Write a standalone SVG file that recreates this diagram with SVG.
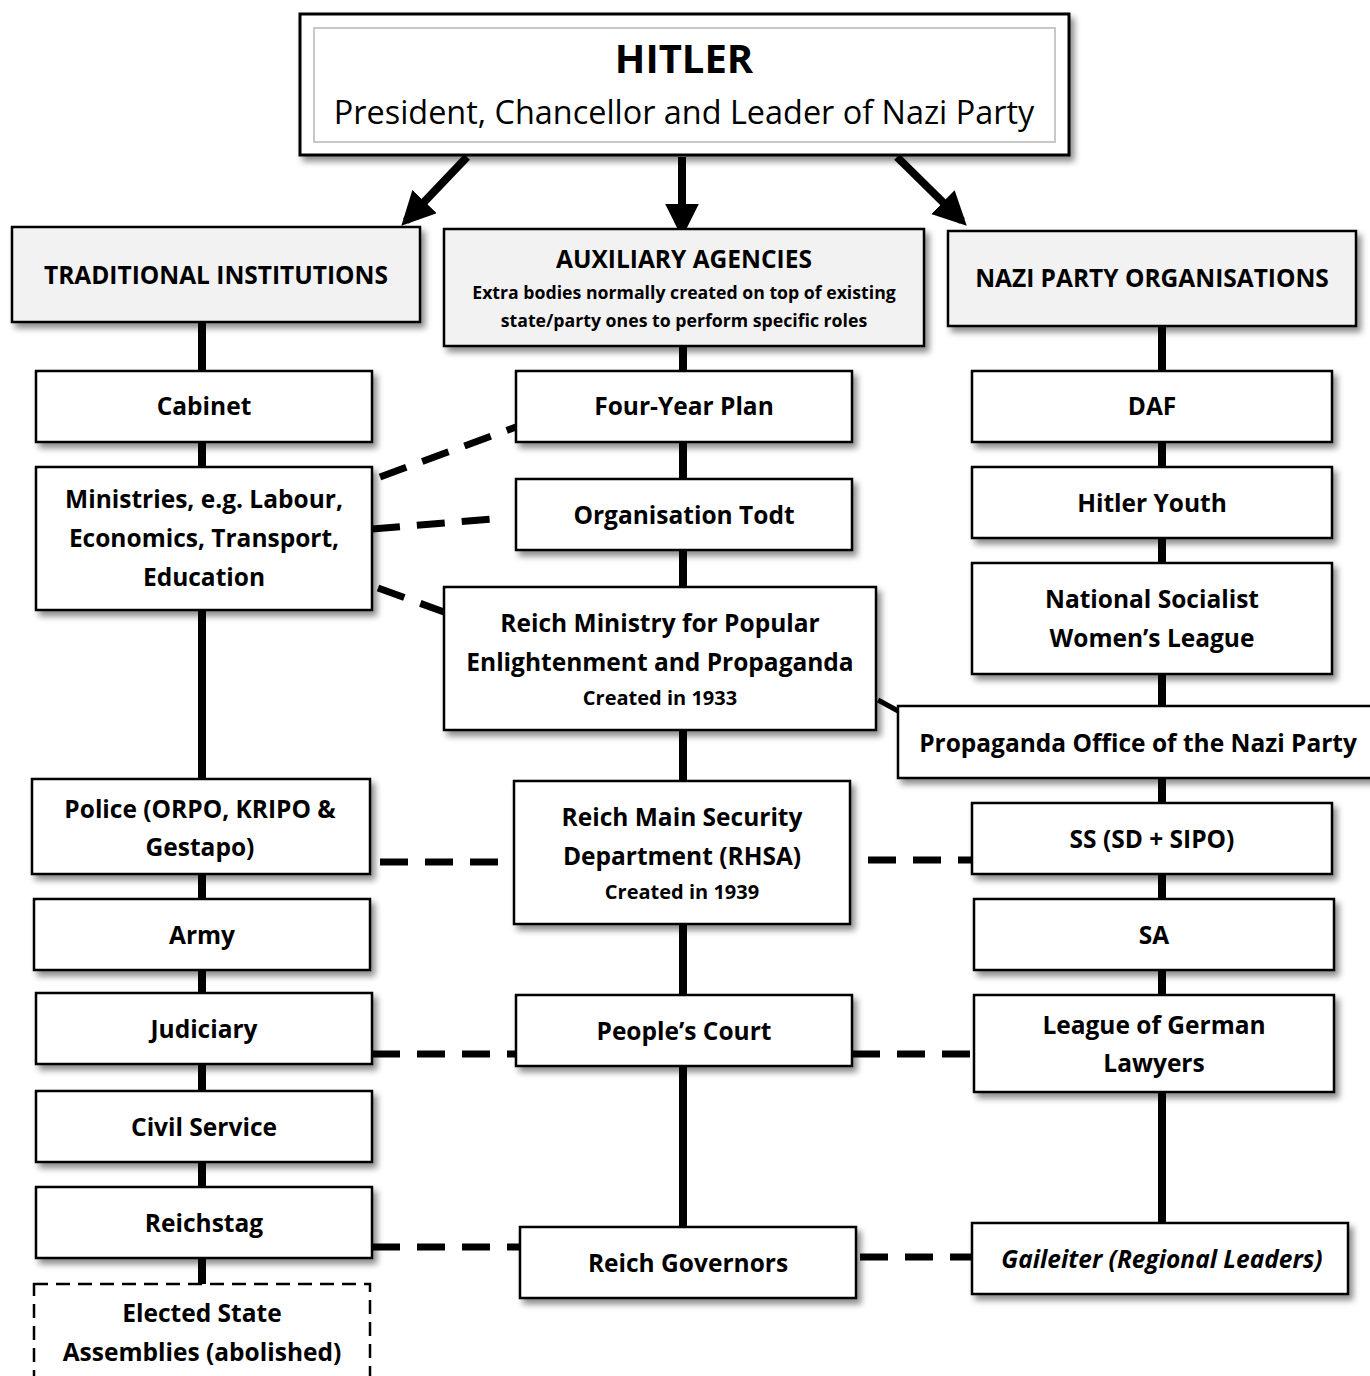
<svg xmlns="http://www.w3.org/2000/svg" width="1370" height="1376" viewBox="0 0 1370 1376">
<defs>
<filter id="sh" x="-10%" y="-10%" width="130%" height="140%">
<feDropShadow dx="4" dy="5" stdDeviation="3" flood-color="#000" flood-opacity="0.45"/>
</filter>
<marker id="ah" viewBox="0 0 10 10" refX="8" refY="5" markerWidth="4.2" markerHeight="4.2" orient="auto" markerUnits="strokeWidth">
<path d="M0,0 L10,5 L0,10 Z" fill="#000"/>
</marker>
</defs>
<style>
.box{fill:#fff;stroke:#000;stroke-width:2.5;filter:url(#sh)}
.hdr{fill:#f2f2f2;stroke:#000;stroke-width:2.5;filter:url(#sh)}
.dbox{fill:#fff;stroke:#000;stroke-width:2.5;stroke-dasharray:14 8}
.t{font-family:"Open Sans",Lato,"Liberation Sans",sans-serif;font-weight:bold;font-size:24.5px;text-anchor:middle;fill:#000}
.ts{font-size:20px}
.tsm{font-size:17.7px}
.it{font-style:italic}
.solid{stroke:#000;stroke-width:8;fill:none}
.dash{stroke:#000;stroke-width:7;fill:none;stroke-dasharray:28 17}
.arr{stroke:#000;stroke-width:8;fill:none;marker-end:url(#ah)}
</style>

<g id="connectors">
<line class="solid" x1="202" y1="322" x2="202" y2="1284"/>
<line class="solid" x1="683" y1="346" x2="683" y2="1227"/>
<line class="solid" x1="1162" y1="326" x2="1162" y2="1223"/>
<line class="arr" x1="467" y1="157" x2="406" y2="221"/>
<line class="arr" x1="682" y1="157" x2="682" y2="231"/>
<line class="arr" x1="897" y1="157" x2="962" y2="221"/>
<line class="dash" x1="380" y1="477" x2="516" y2="427"/>
<line class="dash" x1="372" y1="529" x2="505" y2="518"/>
<line class="dash" x1="378" y1="588" x2="444" y2="612"/>
<line stroke="#000" stroke-width="5" x1="878" y1="700" x2="900" y2="712"/>
<line class="dash" x1="380" y1="862" x2="514" y2="862"/>
<line class="dash" x1="868" y1="860" x2="972" y2="860"/>
<line class="dash" x1="372" y1="1054" x2="516" y2="1054"/>
<line class="dash" x1="852" y1="1054" x2="974" y2="1054"/>
<line class="dash" x1="372" y1="1247" x2="520" y2="1247"/>
<line class="dash" x1="860" y1="1257" x2="972" y2="1257"/>
</g>

<g id="hitler">
<rect x="300" y="14" width="769" height="141" fill="#fff" stroke="#000" stroke-width="3" filter="url(#sh)"/>
<rect x="314" y="28" width="741" height="114" fill="#fff" stroke="#c8c8c8" stroke-width="2"/>
<text class="t" x="684" y="73" style="font-size:40px">HITLER</text>
<text class="t" x="684" y="124" style="font-size:32.4px;font-weight:normal">President, Chancellor and Leader of Nazi Party</text>
</g>

<g id="traditional">
<rect class="hdr" x="12" y="227" width="408" height="95"/>
<text class="t" x="216" y="284">TRADITIONAL INSTITUTIONS</text>
</g>
<g id="auxiliary">
<rect class="hdr" x="444" y="229" width="480" height="117"/>
<text class="t" x="684" y="268">AUXILIARY AGENCIES</text>
<text class="t tsm" x="684" y="299">Extra bodies normally created on top of existing</text>
<text class="t tsm" x="684" y="327">state/party ones to perform specific roles</text>
</g>
<g id="nazi">
<rect class="hdr" x="948" y="231" width="408" height="95"/>
<text class="t" x="1152" y="287">NAZI PARTY ORGANISATIONS</text>
</g>

<g id="cabinet"><rect class="box" x="36" y="371" width="336" height="71"/><text class="t" x="204" y="415">Cabinet</text></g>
<g id="ministries"><rect class="box" x="36" y="467" width="336" height="143"/>
<text class="t" x="204" y="508">Ministries, e.g. Labour,</text>
<text class="t" x="204" y="547">Economics, Transport,</text>
<text class="t" x="204" y="586">Education</text></g>
<g id="police"><rect class="box" x="32" y="779" width="338" height="95"/>
<text class="t" x="200" y="818">Police (ORPO, KRIPO &amp;</text>
<text class="t" x="200" y="856">Gestapo)</text></g>
<g id="army"><rect class="box" x="34" y="899" width="336" height="71"/><text class="t" x="202" y="944">Army</text></g>
<g id="judiciary"><rect class="box" x="36" y="993" width="336" height="71"/><text class="t" x="204" y="1038">Judiciary</text></g>
<g id="civil"><rect class="box" x="36" y="1091" width="336" height="71"/><text class="t" x="204" y="1136">Civil Service</text></g>
<g id="reichstag"><rect class="box" x="36" y="1187" width="336" height="71"/><text class="t" x="204" y="1232">Reichstag</text></g>
<g id="assemblies"><rect class="dbox" x="34" y="1284" width="336" height="110"/>
<text class="t" x="202" y="1322">Elected State</text>
<text class="t" x="202" y="1361">Assemblies (abolished)</text></g>

<g id="fouryear"><rect class="box" x="516" y="371" width="336" height="71"/><text class="t" x="684" y="415">Four-Year Plan</text></g>
<g id="todt"><rect class="box" x="516" y="479" width="336" height="71"/><text class="t" x="684" y="524">Organisation Todt</text></g>
<g id="propministry"><rect class="box" x="444" y="587" width="432" height="143"/>
<text class="t" x="660" y="632">Reich Ministry for Popular</text>
<text class="t" x="660" y="671">Enlightenment and Propaganda</text>
<text class="t ts" x="660" y="705">Created in 1933</text></g>
<g id="rhsa"><rect class="box" x="514" y="781" width="336" height="143"/>
<text class="t" x="682" y="826">Reich Main Security</text>
<text class="t" x="682" y="865">Department (RHSA)</text>
<text class="t ts" x="682" y="899">Created in 1939</text></g>
<g id="peoplescourt"><rect class="box" x="516" y="995" width="336" height="71"/><text class="t" x="684" y="1040">People’s Court</text></g>
<g id="governors"><rect class="box" x="520" y="1227" width="336" height="71"/><text class="t" x="688" y="1272">Reich Governors</text></g>

<g id="daf"><rect class="box" x="972" y="371" width="360" height="71"/><text class="t" x="1152" y="415">DAF</text></g>
<g id="hitleryouth"><rect class="box" x="972" y="467" width="360" height="71"/><text class="t" x="1152" y="512">Hitler Youth</text></g>
<g id="womensleague"><rect class="box" x="972" y="563" width="360" height="111"/>
<text class="t" x="1152" y="608">National Socialist</text>
<text class="t" x="1152" y="647">Women’s League</text></g>
<g id="propoffice"><rect class="box" x="898" y="706" width="476" height="72"/><text class="t" x="1138" y="752">Propaganda Office of the Nazi Party</text></g>
<g id="ss"><rect class="box" x="972" y="803" width="360" height="71"/><text class="t" x="1152" y="848">SS (SD + SIPO)</text></g>
<g id="sa"><rect class="box" x="974" y="899" width="360" height="71"/><text class="t" x="1154" y="944">SA</text></g>
<g id="lawyers"><rect class="box" x="974" y="995" width="360" height="97"/>
<text class="t" x="1154" y="1034">League of German</text>
<text class="t" x="1154" y="1072">Lawyers</text></g>
<g id="gauleiter"><rect class="box" x="972" y="1223" width="376" height="71"/><text class="t it" x="1162" y="1268">Gaileiter (Regional Leaders)</text></g>
</svg>
